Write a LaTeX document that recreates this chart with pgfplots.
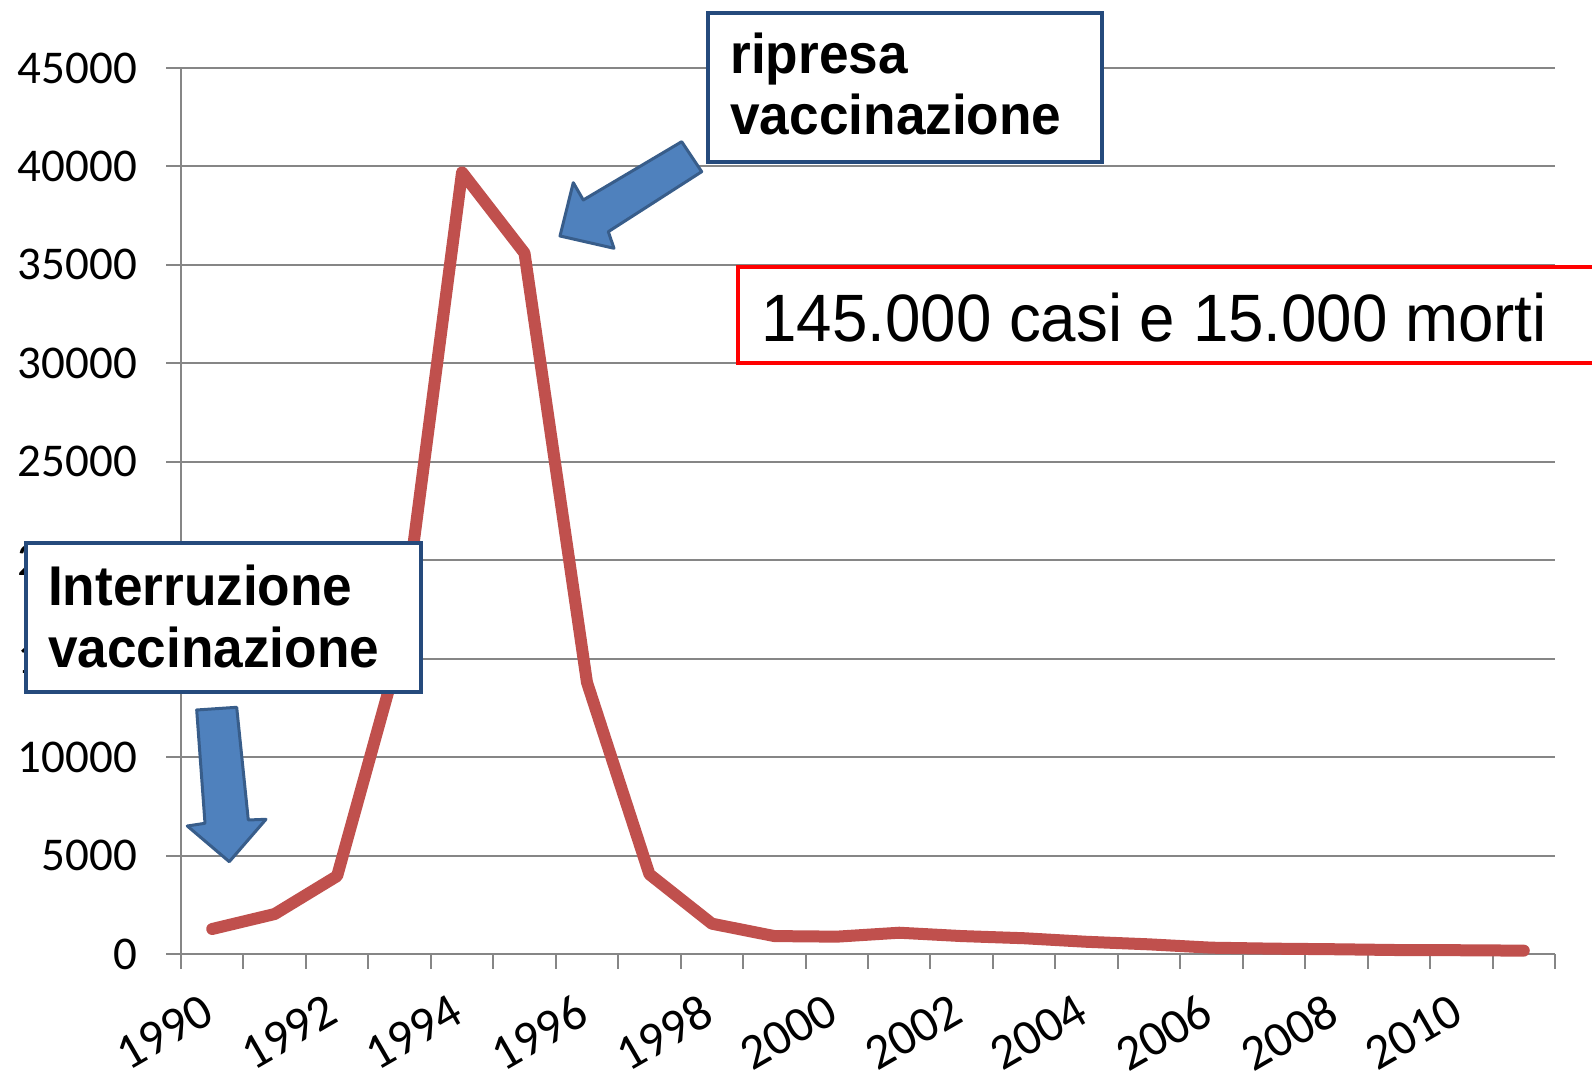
\documentclass[border=0pt]{standalone}
\usepackage{fontspec}
\setmainfont{Liberation Sans}
\newfontfamily\annfont[FakeStretch=0.95]{Liberation Sans}
\newfontfamily\tickfont{Carlito}
\usepackage{pgfplots}
\pgfplotsset{compat=1.18}
\definecolor{gridgray}{HTML}{868686}
\definecolor{linered}{HTML}{C0504D}
\definecolor{arrowfill}{HTML}{4F81BD}
\definecolor{arrowdraw}{HTML}{385D8A}
\definecolor{navy}{HTML}{254A7C}
\begin{document}
\begin{tikzpicture}
\useasboundingbox (-90.5pt,-60.5pt) rectangle (705.5pt,477pt);
\begin{axis}[
  scale only axis, width=687pt, height=443pt,
  xmin=1989.5, xmax=2011.5, ymin=0, ymax=45000,
  axis lines*=left,
  axis line style={draw=gridgray, line width=1pt},
  xtick={1989.5,1990.5,...,2011.5}, xticklabels={},
  extra x ticks={1990,1992,1994,1996,1998,2000,2002,2004,2006,2008,2010},
  extra x tick labels={1990,1992,1994,1996,1998,2000,2002,2004,2006,2008,2010},
  extra x tick style={major tick length=0pt,
     xticklabel style={rotate=30, anchor=north east, xshift=-11.5pt, yshift=-10pt,
       font=\tickfont\fontsize{25}{30}\selectfont}},
  ytick={0,5000,...,45000},
  ymajorgrids, grid style={gridgray, line width=1pt},
  tick align=outside, major tick length=7.5pt,
  tick style={gridgray, line width=1pt},
  scaled y ticks=false,
  /pgf/number format/1000 sep={},
  /pgf/number format/assume math mode=true,
  ticklabel style={font=\tickfont\fontsize{23.5}{28}\selectfont, text=black},
  yticklabel style={xshift=-11pt},
  clip=false,
]
\addplot[color=linered, line width=6pt, line join=round, line cap=round] table {
year cases
1990 1270
1991 2030
1992 3960
1993 15400
1994 39700
1995 35600
1996 13800
1997 4050
1998 1540
1999 910
2000 880
2001 1080
2002 910
2003 800
2004 620
2005 490
2006 320
2007 270
2008 240
2009 200
2010 190
2011 170
};
\end{axis}
\begin{scope}[x=0.5pt,y=-0.5pt,shift={(-90.5pt,477pt)}]
  % arrows
  \draw[arrowdraw, fill=arrowfill, line width=1.5pt, line join=round]
    (196.7,710) -- (236.7,707.3) -- (248.3,820) -- (266,819.3) -- (229.3,861.7)
    -- (187.3,826) -- (205,823.3) -- cycle;
  \draw[arrowdraw, fill=arrowfill, line width=1.5pt, line join=round]
    (560,236) -- (573.3,182.7) -- (583.3,200) -- (681.7,141.7) -- (701.7,171.7)
    -- (608.3,231.7) -- (614,248.3) -- cycle;
  % boxes
  \draw[navy, line width=2pt, fill=white] (707.6,13.2) rectangle (1101.6,162.4);
  \node[anchor=base west, inner sep=0pt, font=\annfont\bfseries\fontsize{28}{33}\selectfont] at (730,74) {ripresa};
  \node[anchor=base west, inner sep=0pt, font=\annfont\bfseries\fontsize{28}{33}\selectfont] at (730,135) {vaccinazione};
  \draw[navy, line width=2pt, fill=white] (26.4,543.2) rectangle (421.3,692.4);
  \node[anchor=base west, inner sep=0pt, font=\annfont\bfseries\fontsize{28}{33}\selectfont] at (47.7,606) {Interruzione};
  \node[anchor=base west, inner sep=0pt, font=\annfont\bfseries\fontsize{28}{33}\selectfont] at (47.7,668) {vaccinazione};
  \draw[red, line width=2pt, fill=white] (738,267) rectangle (1610,363.5);
  \node[anchor=base west, inner sep=0pt, font=\annfont\fontsize{33.5}{40}\selectfont] at (761,342) {145.000 casi e 15.000 morti};
\end{scope}
\end{tikzpicture}
\end{document}
